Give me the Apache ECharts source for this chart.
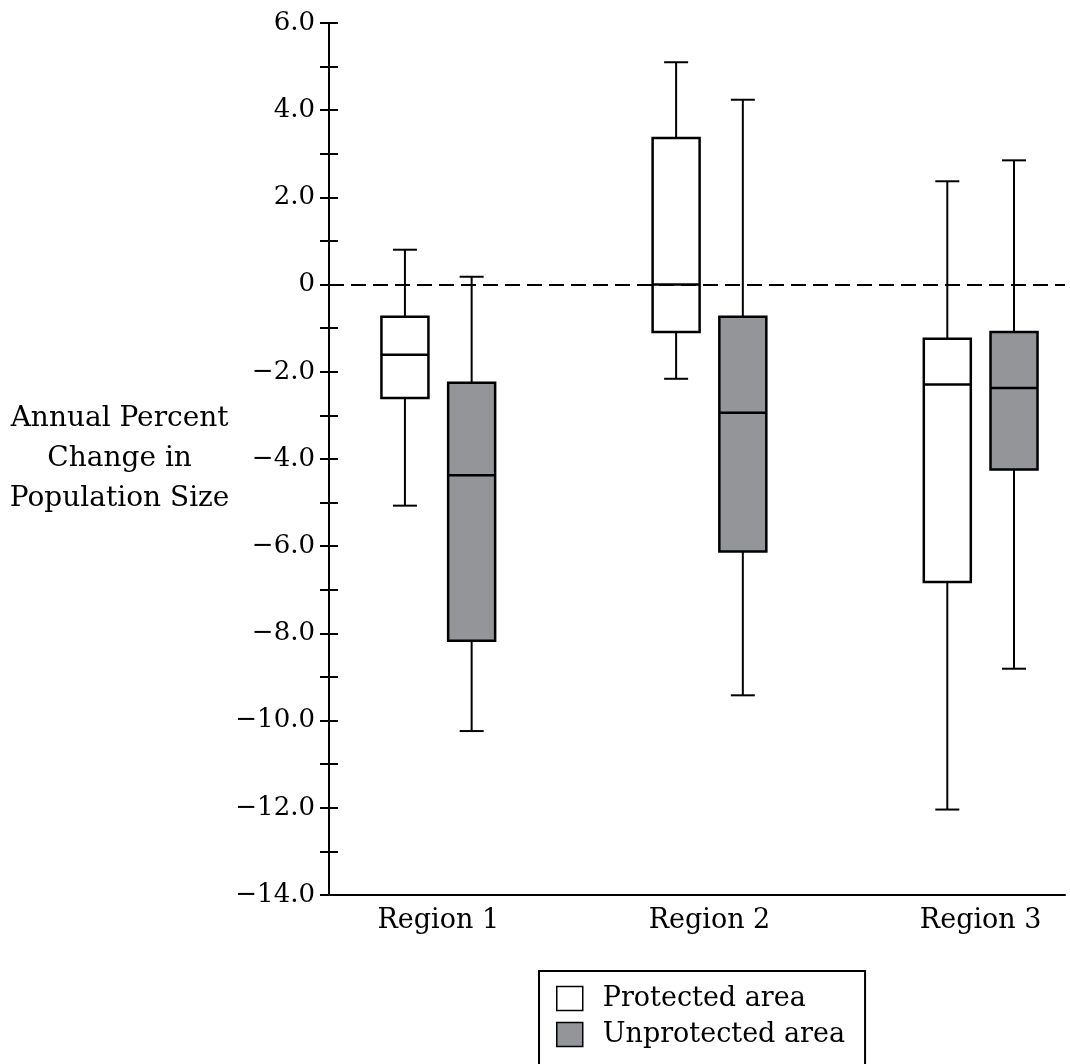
<!DOCTYPE html>
<html>
<head>
<meta charset="utf-8">
<script src="https://cdn.jsdelivr.net/npm/echarts@6/dist/echarts.min.js"></script>
<style>
  html, body { margin: 0; padding: 0; background: #fff; }
  #chart { width: 1070px; height: 1064px; }
</style>
</head>
<body>
<div id="chart"></div>
<script>
const regions = ['Region 1', 'Region 2', 'Region 3']
const regionPos = [1, 2, 3]
// [min, q1, median, q3, max]
const protectedBox = [
  [-5.07, -2.60, -1.61, -0.74, 0.80],
  [-2.16, -1.09, 0, 3.36, 5.10],
  [-12.04, -6.82, -2.29, -1.24, 2.37],
]
const unprotectedBox = [
  [-10.24, -8.17, -4.37, -2.25, 0.18],
  [-9.42, -6.12, -2.94, -0.74, 4.24],
  [-8.81, -4.24, -2.37, -1.09, 2.85],
]
const yTickValues = [-14, -12, -10, -8, -6, -4, -2, 0, 2, 4, 6]
const yTickLabels = ['−14.0', '−12.0', '−10.0', '−8.0', '−6.0', '−4.0', '−2.0', '0', '2.0', '4.0', '6.0']

const FONT = '"DejaVu Serif", "Liberation Serif", serif'
const GRAY = '#939598'

const makeData = (boxes, shift) =>
  boxes.map((b, i) => [regionPos[i] + shift].concat(b))

function renderBox(params, api) {
  const x = api.value(0)
  const pMin = api.coord([x, api.value(1)])
  const pQ1 = api.coord([x, api.value(2)])
  const pMed = api.coord([x, api.value(3)])
  const pQ3 = api.coord([x, api.value(4)])
  const pMax = api.coord([x, api.value(5)])
  const cx = pMin[0]
  const half = 23.5
  const cap = 12
  const line = { stroke: '#000', lineWidth: 2 }
  return {
    type: 'group',
    children: [
      { type: 'line', shape: { x1: cx, y1: pMax[1], x2: cx, y2: pQ3[1] }, style: line },
      { type: 'line', shape: { x1: cx, y1: pQ1[1], x2: cx, y2: pMin[1] }, style: line },
      { type: 'line', shape: { x1: cx - cap, y1: pMax[1], x2: cx + cap, y2: pMax[1] }, style: line },
      { type: 'line', shape: { x1: cx - cap, y1: pMin[1], x2: cx + cap, y2: pMin[1] }, style: line },
      {
        type: 'rect',
        shape: { x: cx - half, y: pQ3[1], width: half * 2, height: pQ1[1] - pQ3[1] },
        style: { fill: api.visual('color'), stroke: '#000', lineWidth: 2.5 },
      },
      { type: 'line', shape: { x1: cx - half, y1: pMed[1], x2: cx + half, y2: pMed[1] }, style: { stroke: '#000', lineWidth: 2.5 } },
    ],
  }
}

const chart = echarts.init(document.getElementById('chart'))

const yAxisBase = {
  type: 'value',
  min: -14,
  max: 6,
  interval: 2,
  position: 'left',
  splitLine: { show: false },
  minorSplitLine: { show: false },
}

const option = {
  animation: false,
  backgroundColor: '#fff',
  grid: { left: 329, right: 5, top: 23, bottom: 169, containLabel: false },
  legend: {
    orient: 'vertical',
    left: 539,
    top: 971,
    height: 120,
    padding: [14, 20, 40, 17],
    borderColor: '#000',
    borderWidth: 2,
    itemWidth: 26,
    itemHeight: 24,
    itemGap: 9,
    selectedMode: false,
    textStyle: { fontFamily: FONT, fontSize: 27, color: '#000', padding: [0, 0, 0, 15] },
    data: [
      { name: 'Protected area', icon: 'rect', itemStyle: { color: '#fff', borderColor: '#000', borderWidth: 1.5 } },
      { name: 'Unprotected area', icon: 'rect', itemStyle: { color: GRAY, borderColor: '#000', borderWidth: 1.5 } },
    ],
  },
  xAxis: {
    type: 'value',
    min: 0.597,
    max: 3.311,
    axisLine: { show: true, onZero: false, lineStyle: { color: '#000', width: 2 } },
    axisTick: { show: false },
    splitLine: { show: false },
    axisLabel: {
      customValues: regionPos,
      formatter: (v) => regions[regionPos.indexOf(v)] || '',
      fontFamily: FONT,
      fontSize: 27,
      color: '#000',
      margin: 12,
    },
  },
  yAxis: [
    Object.assign({}, yAxisBase, {
      name: 'Annual Percent\nChange in\nPopulation Size',
      nameLocation: 'middle',
      nameRotate: 0,
      nameGap: 209,
      nameTextStyle: {
        fontFamily: FONT,
        fontSize: 28,
        color: '#000',
        align: 'center',
        verticalAlign: 'middle',
        lineHeight: 40,
      },
      axisLine: { show: true, lineStyle: { color: '#000', width: 2 } },
      axisTick: { show: true, length: 9, lineStyle: { color: '#000', width: 2 } },
      minorTick: { show: true, splitNumber: 2, length: 9, lineStyle: { color: '#000', width: 2 } },
      axisLabel: {
        fontFamily: FONT,
        fontSize: 26,
        color: '#000',
        margin: 14,
        formatter: (v) => yTickLabels[yTickValues.indexOf(v)],
      },
    }),
    Object.assign({}, yAxisBase, {
      axisLine: { show: false },
      axisTick: { show: true, inside: true, length: 9, lineStyle: { color: '#000', width: 2 } },
      minorTick: { show: true, splitNumber: 2, length: 9, lineStyle: { color: '#000', width: 2 } },
      axisLabel: { show: false },
    }),
  ],
  series: [
    {
      name: 'Protected area',
      type: 'custom',
      itemStyle: { color: '#fff' },
      renderItem: renderBox,
      encode: { x: 0, y: [1, 2, 3, 4, 5] },
      data: makeData(protectedBox, -0.123),
      markLine: {
        silent: true,
        symbol: 'none',
        label: { show: false },
        lineStyle: { color: '#000', width: 2, type: [15, 7] },
        data: [{ yAxis: 0 }],
      },
      z: 3,
    },
    {
      name: 'Unprotected area',
      type: 'custom',
      itemStyle: { color: GRAY },
      renderItem: renderBox,
      encode: { x: 0, y: [1, 2, 3, 4, 5] },
      data: makeData(unprotectedBox, 0.123),
      z: 3,
    },
  ],
}

chart.setOption(option)
</script>
</body>
</html>
